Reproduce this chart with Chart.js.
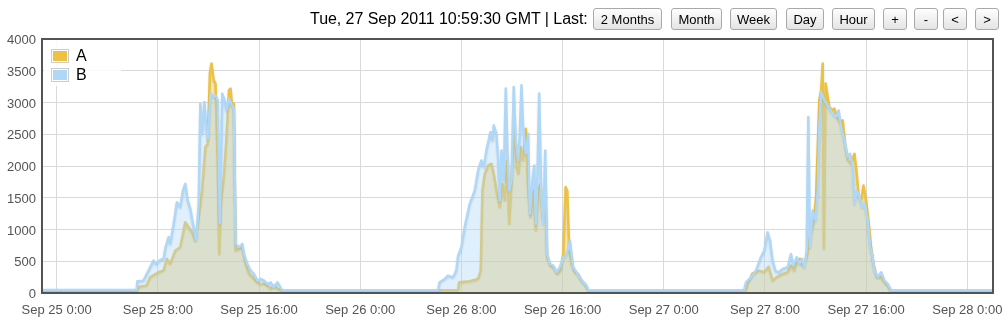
<!DOCTYPE html>
<html>
<head>
<meta charset="utf-8">
<script src="https://cdn.jsdelivr.net/npm/chart.js@4.4.1/dist/chart.umd.min.js"></script>
<style>
  html, body { margin: 0; padding: 0; background: #fff; }
  #wrap { position: relative; width: 1008px; height: 321px; overflow: hidden; font-family: "Liberation Sans", Arial, sans-serif; }
  #chart { position: absolute; left: 0; top: 0; }
  #stamp { position: absolute; left: 310px; top: 10px; font-size: 16px; line-height: 18px; color: #000; white-space: nowrap; letter-spacing: -0.05px; }
  .btn { position: absolute; top: 8px; height: 22px; box-sizing: border-box; border: 1px solid #a9a9a9; border-radius: 3px;
         background: linear-gradient(#fefefe, #e4e4e4); font-size: 13px; color: #000; display: flex; align-items: center; justify-content: center; white-space: nowrap; }
</style>
</head>
<body>
<div id="wrap">
  <canvas id="chart" width="1008" height="321"></canvas>
  <div id="stamp"></div>
  <div id="buttons"></div>
</div>
<script>
// ---------- data ----------
const headerText = "Tue, 27 Sep 2011 10:59:30 GMT | Last:";
const buttonLabels = ["2 Months", "Month", "Week", "Day", "Hour", "+", "-", "<", ">"];
const seriesNames = ["A", "B"];

// x values: hours since Sep 25 0:00
const xTickHours = [0, 8, 16, 24, 32, 40, 48, 56, 64, 72];
const xTickLabels = ["Sep 25 0:00", "Sep 25 8:00", "Sep 25 16:00", "Sep 26 0:00", "Sep 26 8:00",
                     "Sep 26 16:00", "Sep 27 0:00", "Sep 27 8:00", "Sep 27 16:00", "Sep 28 0:00"];
const yTickValues = [0, 500, 1000, 1500, 2000, 2500, 3000, 3500, 4000];
const yTickLabels = ["0", "500", "1000", "1500", "2000", "2500", "3000", "3500", "4000"];

// series A: [hour, value]
const seriesA = [
  [-1.5, 45], [6.38, 45], [6.50, 100], [7.10, 116], [7.39, 247], [8.05, 326], [8.45, 352], [8.72, 537],
  [8.98, 458], [9.38, 668], [9.77, 720], [10.17, 1115], [10.43, 1036], [10.70, 957], [10.96, 826],
  [11.23, 1194], [11.50, 1615], [11.76, 2299], [11.95, 2351], [12.11, 3456], [12.24, 3614], [12.42, 3351],
  [12.56, 3298], [12.74, 1983], [12.85, 615], [13.01, 1457], [13.22, 1825], [13.43, 2456], [13.62, 3193],
  [13.75, 3219], [13.88, 2930], [14.01, 2982], [14.15, 668], [14.41, 694], [14.68, 720], [14.94, 458],
  [15.21, 300], [15.60, 221], [16.00, 142], [16.40, 142], [16.66, 116], [16.93, 63], [17.19, 116],
  [17.46, 63], [17.72, 45],
  [31.74, 45], [31.82, 168], [32.66, 184], [33.32, 221], [33.53, 352], [33.66, 1615], [33.85, 1878],
  [34.11, 2009], [34.38, 2036], [34.56, 1878], [34.77, 1615], [35.04, 1352], [35.25, 1720], [35.43, 1457],
  [35.62, 2088], [35.78, 1089], [35.96, 1720], [36.17, 2719], [36.36, 1983], [36.51, 1878], [36.70, 2299],
  [36.88, 2088], [37.10, 2588], [37.28, 1615], [37.46, 1194], [37.68, 1615], [37.89, 984], [38.07, 1615],
  [38.26, 1720], [38.42, 1194], [38.63, 1668], [38.78, 563], [39.05, 431], [39.31, 405], [39.58, 300],
  [39.84, 352], [40.05, 615], [40.24, 1668], [40.37, 1615], [40.53, 668], [40.71, 458], [40.97, 326],
  [41.24, 300], [41.50, 195], [41.77, 142], [42.03, 45],
  [54.50, 45], [54.63, 142], [55.02, 310], [55.55, 352], [55.95, 326], [56.29, 415], [56.61, 195],
  [56.92, 247], [57.40, 300], [57.80, 326], [58.06, 431], [58.32, 352], [58.51, 510], [58.77, 537],
  [58.98, 431], [59.30, 563], [59.56, 878], [59.83, 1089], [60.04, 1510], [60.30, 3035], [60.44, 3193],
  [60.57, 3614], [60.66, 700], [60.80, 3298], [61.09, 2930], [61.31, 2877], [61.49, 2904], [61.68, 2772],
  [61.89, 2693], [62.15, 2719], [62.36, 2299], [62.55, 2088], [62.81, 2036], [63.08, 2193], [63.26, 1878],
  [63.42, 1510], [63.60, 1457], [63.79, 1694], [64.00, 1457], [64.21, 1089], [64.39, 720], [64.58, 458],
  [64.84, 247], [65.19, 247], [65.45, 168], [65.72, 116], [65.90, 45], [74.5, 45]
];

// series B: [hour, value]
const seriesB = [
  [-1.5, 45], [6.33, 53], [6.38, 184], [6.86, 195], [7.66, 510], [7.87, 458], [8.19, 520], [8.45, 537],
  [8.61, 720], [8.85, 880], [8.98, 773], [9.25, 1089], [9.51, 1430], [9.77, 1352], [9.99, 1615],
  [10.17, 1720], [10.36, 1457], [10.57, 1325], [10.83, 1036], [11.02, 826], [11.23, 1404], [11.36, 2982],
  [11.50, 2509], [11.68, 3009], [11.84, 2562], [11.97, 2430], [12.16, 3140], [12.42, 3088], [12.56, 3114],
  [12.74, 3035], [12.90, 1100], [13.09, 3140], [13.27, 3035], [13.43, 2877], [13.62, 3061], [13.80, 2982],
  [14.01, 2904], [14.15, 773], [14.41, 720], [14.68, 773], [14.81, 615], [15.07, 458], [15.34, 352],
  [15.60, 300], [15.87, 195], [16.13, 221], [16.40, 195], [16.66, 142], [16.93, 168], [17.14, 89],
  [17.46, 168], [17.72, 79], [17.85, 45],
  [30.15, 45], [30.28, 168], [30.68, 221], [30.94, 274], [31.34, 247], [31.60, 352], [31.74, 589],
  [32.00, 720], [32.26, 1036], [32.66, 1404], [33.06, 1615], [33.32, 1930], [33.58, 2088], [33.77, 1983],
  [33.98, 2246], [34.30, 2535], [34.46, 2404], [34.56, 2641], [34.77, 2509], [34.90, 2141], [35.04, 1457],
  [35.17, 2246], [35.35, 1773], [35.51, 3219], [35.64, 2246], [35.78, 1615], [35.96, 1773], [36.14, 3245],
  [36.30, 2404], [36.49, 2088], [36.62, 2509], [36.75, 3272], [36.88, 2614], [37.10, 2193], [37.28, 2509],
  [37.41, 1247], [37.62, 1773], [37.76, 2009], [37.89, 1089], [38.02, 1930], [38.15, 3140], [38.31, 1562],
  [38.47, 1089], [38.63, 2246], [38.78, 615], [39.00, 458], [39.26, 431], [39.52, 326], [39.79, 405],
  [40.05, 563], [40.26, 589], [40.45, 694], [40.58, 826], [40.84, 405], [41.11, 326], [41.37, 247],
  [41.64, 168], [41.90, 116], [42.03, 45],
  [54.36, 45], [54.50, 168], [54.89, 247], [55.29, 352], [55.68, 563], [55.95, 668], [56.21, 957],
  [56.40, 826], [56.61, 510], [56.82, 352], [57.08, 326], [57.40, 379], [57.80, 405], [58.06, 615],
  [58.24, 431], [58.51, 563], [58.72, 458], [58.93, 537], [59.12, 405], [59.30, 668], [59.43, 2772],
  [59.56, 720], [59.78, 1299], [59.99, 1141], [60.17, 1615], [60.30, 2614], [60.44, 3167], [60.70, 3035],
  [60.96, 2956], [61.36, 2825], [61.62, 2772], [61.83, 2877], [62.02, 2614], [62.28, 2404], [62.55, 2141],
  [62.73, 2193], [62.94, 1983], [63.08, 1404], [63.26, 1615], [63.47, 1510], [63.68, 1352], [63.87, 1430],
  [64.13, 1141], [64.32, 720], [64.47, 615], [64.66, 352], [64.92, 247], [65.19, 326], [65.45, 195],
  [65.72, 142], [65.98, 45], [74.5, 45]
];

// ---------- layout / style ----------
const X_MIN = -1.16, X_MAX = 74.03;
const COLORS = { A: "#edc240", B: "#afd8f8" };
const FILLS = { A: "rgba(237,194,64,0.4)", B: "rgba(175,216,248,0.4)" };
const BTN_POS = [[593, 69], [671, 51], [730, 47], [786, 38], [832, 43], [883, 24], [914, 24], [943, 24], [975, 24]];
const FONT = '"Liberation Sans", Arial, sans-serif';

document.getElementById("stamp").textContent = headerText;
const bwrap = document.getElementById("buttons");
buttonLabels.forEach((lbl, i) => {
  const d = document.createElement("div");
  d.className = "btn";
  d.textContent = lbl;
  d.style.left = BTN_POS[i][0] + "px";
  d.style.width = BTN_POS[i][1] + "px";
  bwrap.appendChild(d);
});

const toXY = arr => arr.map(p => ({ x: p[0], y: p[1] }));

// soft shadow under the series lines, like the original plot
const shadowPlugin = {
  id: "lineShadow",
  beforeDatasetDraw(chart) {
    const ctx = chart.ctx;
    ctx.save();
    ctx.shadowColor = "rgba(0,0,0,0.12)";
    ctx.shadowBlur = 2;
    ctx.shadowOffsetX = 0;
    ctx.shadowOffsetY = 1;
  },
  afterDatasetDraw(chart) {
    chart.ctx.restore();
  }
};

const framePlugin = {
  id: "frame",
  afterDraw(chart) {
    const { ctx, chartArea: a } = chart;
    ctx.save();
    ctx.fillStyle = "rgba(255,255,255,0.85)";
    ctx.fillRect(a.left + 2, a.top + 1, 77, 46);
    const entries = [[seriesNames[0], COLORS.A, 49], [seriesNames[1], COLORS.B, 68]];
    ctx.font = "16px " + FONT;
    ctx.textBaseline = "middle";
    entries.forEach(([name, col, y]) => {
      ctx.fillStyle = "#fff";
      ctx.fillRect(51, y, 18, 14);
      ctx.strokeStyle = "#cccccc";
      ctx.lineWidth = 1;
      ctx.strokeRect(51.5, y + 0.5, 17, 13);
      ctx.fillStyle = col;
      ctx.fillRect(53, y + 2, 14, 10);
      ctx.fillStyle = "#000";
      ctx.fillText(name, 76, y + 7.5);
    });
    ctx.strokeStyle = "#545454";
    ctx.lineWidth = 2;
    ctx.strokeRect(a.left, a.top, a.right - a.left, a.bottom - a.top);
    ctx.restore();
  }
};

new Chart(document.getElementById("chart"), {
  type: "line",
  data: {
    datasets: [
      { label: seriesNames[0], data: toXY(seriesA), borderColor: COLORS.A, backgroundColor: FILLS.A,
        fill: "origin", borderWidth: 2.5, pointRadius: 0, tension: 0, borderJoinStyle: "round", order: 2 },
      { label: seriesNames[1], data: toXY(seriesB), borderColor: COLORS.B, backgroundColor: FILLS.B,
        fill: "origin", borderWidth: 2.5, pointRadius: 0, tension: 0, borderJoinStyle: "round", order: 1 }
    ]
  },
  options: {
    responsive: false,
    animation: false,
    devicePixelRatio: 1,
    layout: { padding: { top: 39, right: 15, left: 0, bottom: 0 } },
    plugins: { legend: { display: false }, tooltip: { enabled: false } },
    scales: {
      x: {
        type: "linear", min: X_MIN, max: X_MAX,
        border: { display: false },
        grid: { color: "#d9d9d9", lineWidth: 1, drawTicks: false },
        ticks: {
          color: "#545454", font: { family: FONT, size: 13 }, padding: 10, maxRotation: 0, autoSkip: false,
          callback: v => { const i = xTickHours.indexOf(v); return i >= 0 ? xTickLabels[i] : ""; }
        },
        afterBuildTicks: s => { s.ticks = xTickHours.map(v => ({ value: v })); },
        afterFit: s => { s.height = 28; s.paddingLeft = 0; s.paddingRight = 0; }
      },
      y: {
        min: 0, max: 4000,
        border: { display: false },
        grid: { color: "#d9d9d9", lineWidth: 1, drawTicks: false },
        ticks: {
          color: "#545454", font: { family: FONT, size: 13 }, padding: 6, labelOffset: 1.5,
          callback: v => { const i = yTickValues.indexOf(v); return i >= 0 ? yTickLabels[i] : ""; }
        },
        afterBuildTicks: s => { s.ticks = yTickValues.map(v => ({ value: v })); },
        afterFit: s => { s.width = 42; s.paddingTop = 0; s.paddingBottom = 0; }
      }
    }
  },
  plugins: [shadowPlugin, framePlugin]
});
</script>
</body>
</html>
